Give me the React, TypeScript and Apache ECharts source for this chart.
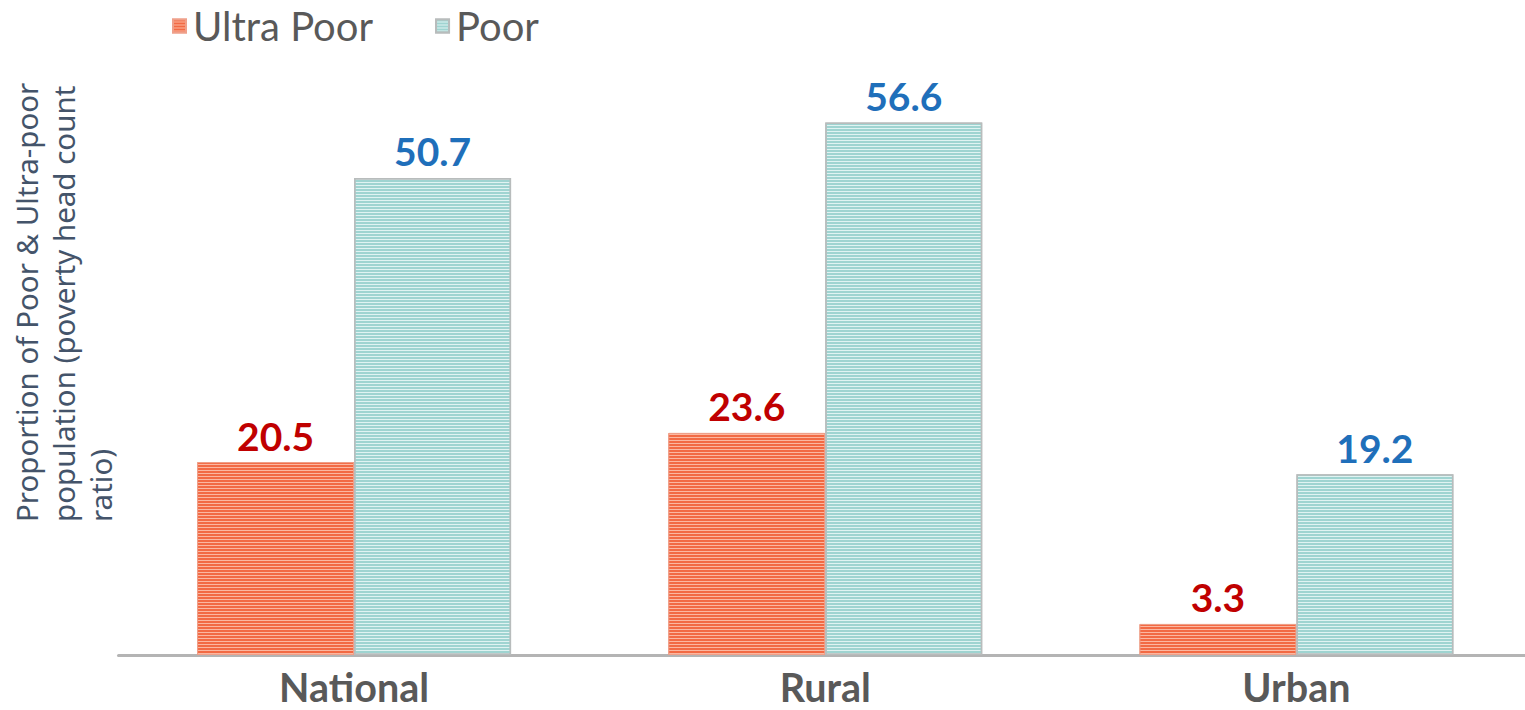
import React, { useEffect, useRef } from "react";
import * as echarts from "echarts";

const categories = ["National", "Rural", "Urban"];
const ultraPoor = [20.5, 23.6, 3.3];
const poor = [50.7, 56.6, 19.2];
const seriesNames = ["Ultra Poor", "Poor"];
const yTitle = "Proportion of Poor & Ultra-poor\npopulation (poverty head count\nratio)";

export default function App() {
  const ref = useRef<HTMLDivElement>(null);
  useEffect(() => {
    if (!ref.current) return;
    const chart = echarts.init(ref.current, null, { renderer: "svg" });
    const font = "Lato";
    chart.setOption({
      animation: false,
      textStyle: { fontFamily: font },
      legend: {
        data: seriesNames,
        left: 172,
        top: 6,
        padding: 0,
        itemWidth: 13,
        itemHeight: 13,
        itemGap: 62,
        icon: "rect",
        textStyle: { fontSize: 40, color: "#595959", fontFamily: font, padding: [0, 0, 0, 2] },
      },
      grid: { left: 118.5, right: 0, top: 90.4, bottom: 55 },
      xAxis: {
        type: "category",
        data: categories,
        axisLine: { lineStyle: { color: "#b4b4b4", width: 3 } },
        axisTick: { show: false },
        axisLabel: {
          fontSize: 39.5,
          lineHeight: 40,
          fontWeight: "bold",
          color: "#595959",
          margin: 11,
          fontFamily: font,
        },
      },
      yAxis: {
        type: "value",
        min: 0,
        max: 60,
        show: false,
        splitLine: { show: false },
      },
      graphic: [
        {
          type: "text",
          x: 8,
          y: 522,
          rotation: Math.PI / 2,
          style: {
            text: yTitle,
            fontSize: 29.5,
            lineHeight: 37,
            fill: "#44546a",
            fontFamily: "Noto Sans",
            align: "left",
            verticalAlign: "top",
          },
        },
      ],
      series: [
        {
          name: seriesNames[0],
          type: "bar",
          data: ultraPoor,
          barWidth: 157,
          barGap: "0%",
          itemStyle: {
            color: "#fbb7a1",
            borderColor: "#efa08a",
            borderWidth: 1,
            decal: {
              symbol: "rect",
              symbolSize: 1,
              color: "#f26a44",
              dashArrayX: [1, 0],
              dashArrayY: [2, 1],
              rotation: 0,
            },
          },
          label: {
            show: true,
            position: "top",
            distance: 7,
            fontSize: 39,
            fontWeight: "bold",
            color: "#c00000",
            fontFamily: font,
          },
        },
        {
          name: seriesNames[1],
          type: "bar",
          data: poor,
          barWidth: 157,
          itemStyle: {
            color: "#e0f3f2",
            borderColor: "#b8bcbc",
            borderWidth: 1.5,
            decal: {
              symbol: "rect",
              symbolSize: 1,
              color: "#9fd4d1",
              dashArrayX: [1, 0],
              dashArrayY: [2, 1],
              rotation: 0,
            },
          },
          label: {
            show: true,
            position: "top",
            distance: 7,
            fontSize: 39,
            fontWeight: "bold",
            color: "#1f6fba",
            fontFamily: font,
          },
        },
      ],
    });
    return () => chart.dispose();
  }, []);
  return (
    <div
      ref={ref}
      style={{ position: "fixed", left: 0, top: 0, width: 1532, height: 710, background: "#fff" }}
    />
  );
}
